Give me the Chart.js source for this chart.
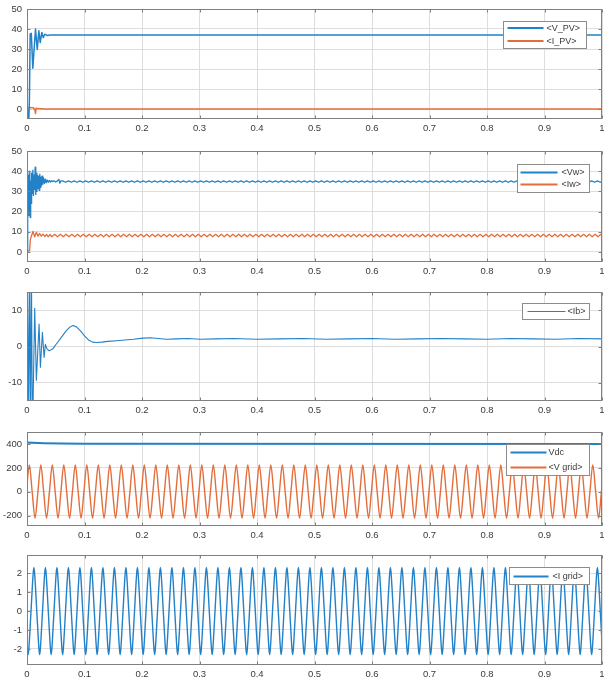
<!DOCTYPE html>
<html>
<head>
<meta charset="utf-8">
<script src="https://cdn.jsdelivr.net/npm/chart.js@4/dist/chart.umd.min.js"></script>
<style>
  html, body { margin: 0; padding: 0; background: #fff; width: 604px; height: 684px; overflow: hidden; }
  canvas { position: absolute; left: 0; }
</style>
</head>
<body>
<script>
// ---------- time axis (seconds) ----------
const timeTicks = [0, 0.1, 0.2, 0.3, 0.4, 0.5, 0.6, 0.7, 0.8, 0.9, 1];
const timeTickLabels = ['0', '0.1', '0.2', '0.3', '0.4', '0.5', '0.6', '0.7', '0.8', '0.9', '1'];

// ---------- panel 1: PV voltage / current ----------
const pvTicks = [0, 10, 20, 30, 40, 50];
const vpvTime  = [0, 0.001, 0.003, 0.0042, 0.0055, 0.0075, 0.0101, 0.0148, 0.0178, 0.0206, 0.023, 0.0258, 0.0282, 0.031, 0.035, 0.04, 1];
const vpvValue = [0, -7, -7, 5, 37.4, 37.8, 20.4, 40, 29.8, 39.1, 33.2, 38.3, 35.7, 37.4, 36.8, 37, 37];
const ipvTime  = [0, 0.011, 0.0138, 0.0148, 0.0158, 0.018, 0.03, 1];
const ipvValue = [0.8, 0.6, -0.5, -2.2, 0.4, 0.2, 0, 0];

// ---------- panel 2: wind voltage / current ----------
const windTicks = [0, 10, 20, 30, 40, 50];
const vwTime  = [0, 0.0008, 0.0016, 0.0024, 0.0032, 0.004, 0.0048, 0.0056, 0.0064, 0.0072,
                 0.008, 0.009, 0.0102, 0.0112, 0.0122, 0.0132, 0.0142, 0.0152, 0.0162, 0.0172,
                 0.0182, 0.0192, 0.0202, 0.0212, 0.0222, 0.0232, 0.0242, 0.0252, 0.0262, 0.0275,
                 0.029, 0.0305, 0.032, 0.0335, 0.035, 0.037, 0.039, 0.041, 0.043, 0.045,
                 0.047, 0.05, 0.053, 0.0555, 0.057, 0.059];
const vwValue = [0, 25, 40, 18, 38, 22, 40, 17, 35, 24,
                 39, 29, 40.5, 28, 38, 31, 42, 28.5, 39, 30,
                 38, 31.5, 37.5, 30.5, 38.5, 32, 37, 33, 37.5, 33.5,
                 36.5, 34, 36, 34.3, 35.6, 34.5, 35.4, 34.6, 35.3, 34.9,
                 35.2, 34.6, 35.2, 35.9, 34.1, 35.2];
const vwRipple = [35.2, 34.5];          // one ripple period, steady state
const vwRippleStart = 0.062;
const iwTime  = [0, 0.0045, 0.0058, 0.0075, 0.0105, 0.0134, 0.0163, 0.0192, 0.0221, 0.025, 0.0279, 0.031, 0.034, 0.037, 0.04, 0.043];
const iwValue = [0.4, 0.6, 6, 7.8, 10.2, 7.5, 9.8, 7.8, 9.1, 7.8, 8.8, 7.6, 8.7, 7.5, 8.7, 7.5];
const iwRipple = [8.7, 7.5];
const iwRippleStart = 0.048;
const rippleStep = 0.005;

// ---------- panel 3: battery current ----------
const ibTicks = [-10, 0, 10];
const ibTime  = [0, 0.0012, 0.003, 0.0047, 0.0062, 0.0078, 0.0092, 0.0105,
                 0.0134, 0.0163, 0.021, 0.0233, 0.0268, 0.0297, 0.032, 0.0345, 0.0385, 0.045,
                 0.052, 0.06, 0.068, 0.075, 0.0801, 0.086, 0.093, 0.1, 0.107, 0.114,
                 0.1208, 0.13, 0.14, 0.156, 0.17, 0.185, 0.202, 0.215, 0.228, 0.243,
                 0.26, 0.28, 0.301, 0.33, 0.36, 0.4, 0.44, 0.48, 0.52, 0.56,
                 0.6, 0.64, 0.68, 0.72, 0.76, 0.8, 0.84, 0.88, 0.92, 0.96, 1];
const ibValue = [0, 18, -18, 18, -18, 18, -18, -16,
                 10.5, -9.3, 6.2, -5.7, 3.9, -3, 0.6, -0.6, -1.2, -0.6,
                 0.9, 2.6, 4.3, 5.4, 5.8, 5.4, 4.3, 2.9, 1.8, 1.2,
                 1.1, 1.2, 1.4, 1.6, 1.8, 2.0, 2.3, 2.4, 2.2, 2.0,
                 2.1, 2.2, 2.0, 2.1, 2.2, 2.0, 2.1, 2.2, 2.0, 2.1,
                 2.2, 2.0, 2.1, 2.2, 2.1, 2.0, 2.2, 2.1, 2.0, 2.2, 2.1];

// ---------- panel 4: DC link and grid voltage ----------
const dcTicks = [-200, 0, 200, 400];
const vdcTime  = [0, 0.03, 0.06, 0.1, 1];
const vdcValue = [412, 407, 404, 401, 400];
const gridPeriod = 0.02;                 // 50 Hz
const gridCycles = 50;
const vGridCycleTime = [0.004, 0.009, 0.014, 0.019];   // position inside one cycle
const vGridCycle     = [225, 0, -220, 0];

// ---------- panel 5: grid current ----------
const iGridTicks = [-2, -1, 0, 1, 2];
const iGridCycleTime = [0.002, 0.0032, 0.007, 0.0108, 0.012, 0.0132, 0.017, 0.0208];
const iGridCycle     = [-2.3, -2.0, 0, 2.0, 2.28, 2.0, 0, -2.0];

// ---------- helpers that build point tables ----------
function pairs(ts, vs) {
  const n = Math.min(ts.length, vs.length);
  const out = [];
  for (let i = 0; i < n; i++) out.push({ x: ts[i], y: vs[i] });
  return out;
}
function withRipple(ts, vs, start, pattern) {
  const out = pairs(ts, vs);
  let k = 0;
  for (let t = start; t <= 1 + rippleStep; t += rippleStep, k++) {
    out.push({ x: t, y: pattern[k % pattern.length] });
  }
  return out;
}
function periodic(cycleTimes, cycleValues) {
  const out = [];
  for (let c = -1; c <= gridCycles; c++) {
    for (let j = 0; j < cycleTimes.length; j++) {
      out.push({ x: c * gridPeriod + cycleTimes[j], y: cycleValues[j] });
    }
  }
  return out;
}

// ---------- styling ----------
const BLUE = '#2381c7';
const ORANGE = '#e36d3b';
const FONT = { family: "'Liberation Sans', Arial, Helvetica, sans-serif", size: 9.5 };
const TEXT = '#3a3a3a';
const GRID = '#dedede';
const FRAME = '#808080';

// frame, inward tick marks and a boxed legend inside the axes
const framePlugin = {
  id: 'frame',
  afterDraw(chart, args, opts) {
    const { ctx, chartArea: a } = chart;
    const xs = chart.scales.x, ys = chart.scales.y;
    ctx.save();
    const L = Math.round(a.left) + 0.5, R = Math.round(a.right) - 0.5;
    const T = Math.round(a.top) + 0.5, B = Math.round(a.bottom) - 0.5;
    ctx.strokeStyle = FRAME;
    ctx.lineWidth = 1;
    ctx.strokeRect(L, T, R - L, B - T);
    ctx.beginPath();
    xs.ticks.forEach(t => {
      const p = Math.round(xs.getPixelForValue(t.value)) + 0.5;
      ctx.moveTo(p, B); ctx.lineTo(p, B - 3);
      ctx.moveTo(p, T); ctx.lineTo(p, T + 3);
    });
    ys.ticks.forEach(t => {
      const p = Math.round(ys.getPixelForValue(t.value)) + 0.5;
      ctx.moveTo(L, p); ctx.lineTo(L + 3, p);
      ctx.moveTo(R, p); ctx.lineTo(R - 3, p);
    });
    ctx.stroke();

    const lg = opts.legend;
    if (lg) {
      const bx = lg.x + 0.5, by = Math.round(a.top + lg.top) + 0.5;
      ctx.fillStyle = '#ffffff';
      ctx.fillRect(bx, by, lg.w, lg.h);
      ctx.strokeStyle = '#8c8c8c';
      ctx.strokeRect(bx, by, lg.w, lg.h);
      ctx.font = "9px 'Liberation Sans', Arial, sans-serif";
      ctx.textBaseline = 'middle';
      ctx.textAlign = 'left';
      lg.rows.forEach(r => {
        const y = by + r.y;
        ctx.strokeStyle = r.color;
        ctx.lineWidth = r.width;
        ctx.beginPath();
        ctx.moveTo(bx + lg.lineFrom, y);
        ctx.lineTo(bx + lg.lineTo, y);
        ctx.stroke();
        ctx.fillStyle = TEXT;
        ctx.fillText(r.label, bx + lg.textX, y + 0.5);
      });
    }
    ctx.restore();
  }
};

function makePanel(p) {
  const padTop = 7, xAxisH = 18;
  const h = padTop + (p.bottom - p.top) + xAxisH;
  const cv = document.createElement('canvas');
  cv.width = 604; cv.height = h;
  cv.style.top = (p.top - padTop) + 'px';
  cv.style.width = '604px'; cv.style.height = h + 'px';
  document.body.appendChild(cv);

  new Chart(cv, {
    type: 'line',
    data: { datasets: p.datasets.map(d => Object.assign({
      pointRadius: 0, fill: false, tension: 0, clip: 0, borderJoinStyle: 'round'
    }, d)) },
    options: {
      responsive: false,
      animation: false,
      events: [],
      layout: { padding: { top: padTop, right: 2, left: 0, bottom: 0 } },
      plugins: {
        legend: { display: false },
        tooltip: { enabled: false },
        frame: { legend: p.legend }
      },
      scales: {
        x: {
          type: 'linear', min: 0, max: 1,
          afterBuildTicks: s => { s.ticks = timeTicks.map(v => ({ value: v })); },
          afterFit: s => { s.height = xAxisH; s.paddingLeft = 0; s.paddingRight = 0; },
          ticks: {
            font: FONT, color: TEXT, padding: 4, autoSkip: false, maxRotation: 0,
            callback: (v, i) => timeTickLabels[i]
          },
          grid: { color: GRID, drawTicks: false },
          border: { display: false }
        },
        y: {
          type: 'linear', min: p.yMin, max: p.yMax,
          afterBuildTicks: s => { s.ticks = p.yTicks.map(v => ({ value: v })); },
          afterFit: s => { s.width = 27; s.paddingTop = 0; s.paddingBottom = 0; },
          ticks: { font: FONT, color: TEXT, padding: 5, callback: v => String(v) },
          grid: { color: GRID, drawTicks: false },
          border: { display: false }
        }
      }
    },
    plugins: [framePlugin]
  });
}

// ---------- the five stacked panels ----------
makePanel({
  top: 9, bottom: 119, yMin: -5, yMax: 50, yTicks: pvTicks,
  datasets: [
    { data: pairs(vpvTime, vpvValue), borderColor: BLUE, borderWidth: 1.5 },
    { data: pairs(ipvTime, ipvValue), borderColor: ORANGE, borderWidth: 1.5 }
  ],
  legend: { x: 503, top: 11.5, w: 83, h: 27, lineFrom: 4, lineTo: 40, textX: 43,
    rows: [ { y: 6.5, label: '<V_PV>', color: BLUE, width: 2 },
            { y: 19.5, label: '<I_PV>', color: ORANGE, width: 2 } ] }
});

makePanel({
  top: 151, bottom: 262, yMin: -5, yMax: 50, yTicks: windTicks,
  datasets: [
    { data: withRipple(vwTime, vwValue, vwRippleStart, vwRipple), borderColor: BLUE, borderWidth: 1.3 },
    { data: withRipple(iwTime, iwValue, iwRippleStart, iwRipple), borderColor: ORANGE, borderWidth: 1.3 }
  ],
  legend: { x: 517, top: 13, w: 72, h: 28, lineFrom: 3, lineTo: 40, textX: 44,
    rows: [ { y: 8, label: '<Vw>', color: BLUE, width: 2 },
            { y: 20, label: '<Iw>', color: ORANGE, width: 2 } ] }
});

makePanel({
  top: 292, bottom: 401, yMin: -15, yMax: 15, yTicks: ibTicks,
  datasets: [
    { data: pairs(ibTime, ibValue), borderColor: BLUE, borderWidth: 1.1 }
  ],
  legend: { x: 522, top: 11, w: 67, h: 16, lineFrom: 5, lineTo: 43, textX: 45,
    rows: [ { y: 8, label: '<Ib>', color: BLUE, width: 1 } ] }
});

makePanel({
  top: 432, bottom: 526, yMin: -285, yMax: 500, yTicks: dcTicks,
  datasets: [
    { data: pairs(vdcTime, vdcValue), borderColor: BLUE, borderWidth: 2 },
    { data: periodic(vGridCycleTime, vGridCycle), borderColor: ORANGE, borderWidth: 1.4,
      cubicInterpolationMode: 'monotone' }
  ],
  legend: { x: 506, top: 12, w: 83, h: 31, lineFrom: 4, lineTo: 40, textX: 42,
    rows: [ { y: 8, label: 'Vdc', color: BLUE, width: 2 },
            { y: 23, label: '<V grid>', color: ORANGE, width: 2 } ] }
});

makePanel({
  top: 555, bottom: 665, yMin: -2.85, yMax: 2.95, yTicks: iGridTicks,
  datasets: [
    { data: periodic(iGridCycleTime, iGridCycle), borderColor: BLUE, borderWidth: 1.4,
      cubicInterpolationMode: 'monotone' }
  ],
  legend: { x: 509, top: 12, w: 80, h: 17, lineFrom: 4, lineTo: 39, textX: 43,
    rows: [ { y: 9, label: '<I grid>', color: BLUE, width: 2 } ] }
});
</script>
</body>
</html>
